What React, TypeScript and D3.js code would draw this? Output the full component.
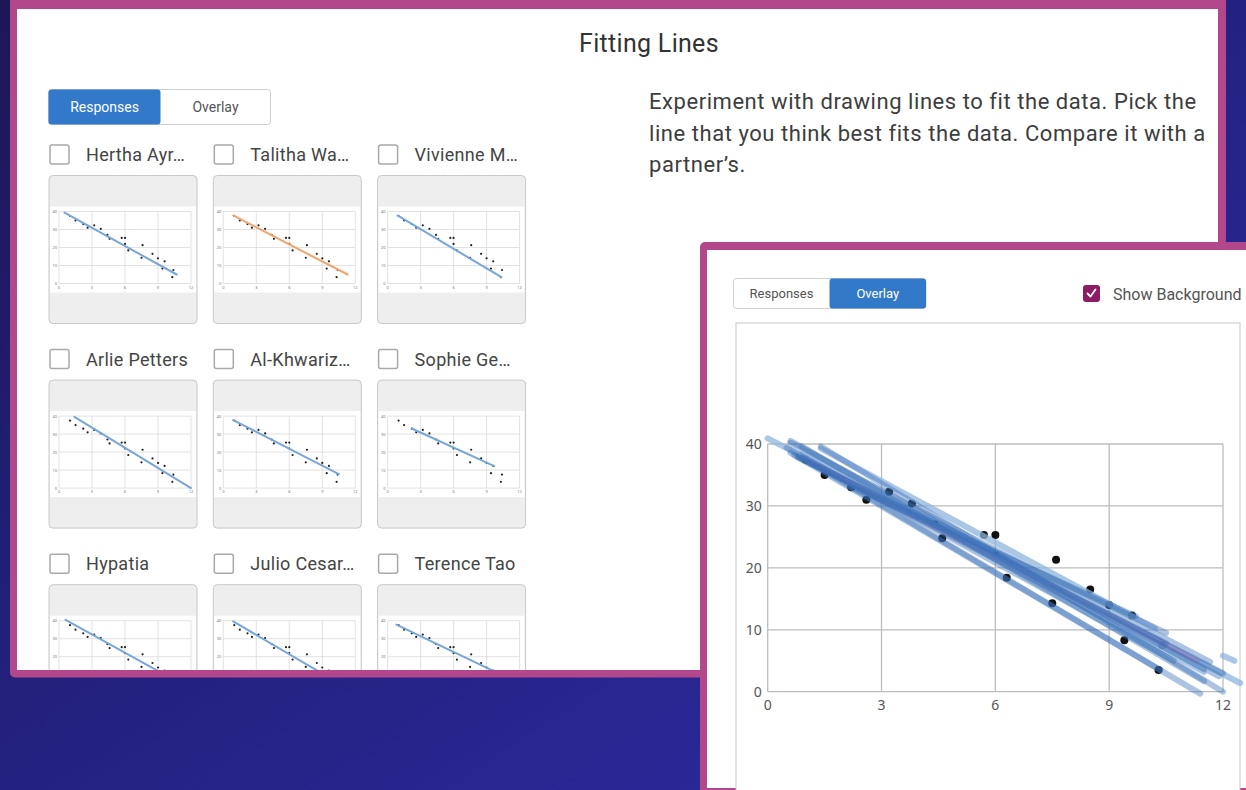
import React, { useEffect, useRef } from 'react';
import * as d3 from 'd3';

// scatter data shared by every response
const pointX = [1.0, 1.5, 2.2, 2.6, 3.2, 3.8, 4.4, 4.6, 5.7, 6.0, 6.0, 6.3, 7.5, 7.6, 8.5, 9.0, 9.4, 9.6, 10.3, 10.4];
const pointY = [37.5, 35, 33, 31, 32.3, 30.4, 27, 24.8, 25.3, 25.3, 22, 18.4, 14.3, 21.3, 16.5, 14, 8.3, 12.3, 3.5, 7.5];

const xTicks = [0, 3, 6, 9, 12];
const yTicks = [0, 10, 20, 30, 40];

// student responses (one fitted line each)
const studentNames = ['Hertha Ayr…', 'Talitha Wa…', 'Vivienne M…', 'Arlie Petters', 'Al-Khwariz…', 'Sophie Ge…', 'Hypatia', 'Julio Cesar…', 'Terence Tao'];
const lineX1 = [0.5, 0.9, 0.9, 1.4, 0.9, 2.2, 0.6, 0.9, 0.8];
const lineY1 = [39.4, 37.8, 37.8, 39.6, 37.8, 33.1, 40.5, 39.6, 37.8];
const lineX2 = [10.7, 11.3, 10.35, 12, 10.5, 9.7, 11.5, 11.5, 10.5];
const lineY2 = [5, 5, 3.5, 0, 7.8, 12.2, 3.6, 1.7, 9.5];

// other responses that only show up in the overlay
const otherX1 = [0, 0.6, 1.4, 0.6, 0.7, 0.8, 0.9, 12.0];
const otherY1 = [40.9, 40.2, 39.3, 38.6, 38.2, 38.0, 38.4, 5.8];
const otherX2 = [12.45, 11.66, 10.2, 11.4, 12, 11.9, 11.5, 12.3];
const otherY2 = [1.4, 4.8, 10.2, -0.3, 3.0, 2.5, 3.2, 5.0];

const introLines = [
    'Experiment with drawing lines to fit the data. Pick the',
    'line that you think best fits the data. Compare it with a',
    'partner’s.',
];

const MAGENTA = '#b2478c';
const BLUE = '#3279c9';
const UI_FONT = 'Roboto, sans-serif';

function drawToggle(g, x, y, w1, w2, h, active, fontSize) {
    const labels = ['Responses', 'Overlay'];
    const widths = [w1, w2];
    g.append('rect').attr('x', x).attr('y', y).attr('width', w1 + w2).attr('height', h)
        .attr('rx', 3).attr('fill', '#fff').attr('stroke', '#cfcfcf');
    let left = x;
    labels.forEach((lab, i) => {
        if (i === active) {
            g.append('rect').attr('x', left).attr('y', y).attr('width', widths[i]).attr('height', h)
                .attr('rx', 3).attr('fill', BLUE);
        }
        g.append('text').attr('x', left + widths[i] / 2).attr('y', y + h / 2)
            .attr('dy', '0.35em').attr('text-anchor', 'middle')
            .style('font-family', UI_FONT).style('font-size', fontSize + 'px')
            .attr('fill', i === active ? '#fff' : '#555').text(lab);
        left += widths[i];
    });
}

function App() {
    const ref = useRef(null);

    useEffect(() => {
        const svg = d3.select(ref.current);
        svg.selectAll('*').remove();
        const W = 1246, H = 790;
        svg.attr('width', W).attr('height', H);

        const defs = svg.append('defs');
        const grad = defs.append('linearGradient').attr('id', 'bg')
            .attr('x1', '0').attr('y1', '0').attr('x2', '1').attr('y2', '1');
        grad.append('stop').attr('offset', '0%').attr('stop-color', '#1a1857');
        grad.append('stop').attr('offset', '100%').attr('stop-color', '#2e2ca9');
        defs.append('clipPath').attr('id', 'leftClip')
            .append('rect').attr('x', 17).attr('y', 9).attr('width', 1201).attr('height', 661);

        svg.append('rect').attr('width', W).attr('height', H).attr('fill', 'url(#bg)');

        // ---- left panel (responses grid) ----
        svg.append('rect').attr('x', 10).attr('y', -10).attr('width', 1216).attr('height', 687.5)
            .attr('rx', 5).attr('fill', MAGENTA);
        svg.append('rect').attr('x', 17).attr('y', 9).attr('width', 1201).attr('height', 661).attr('fill', '#fff');
        const left = svg.append('g').attr('clip-path', 'url(#leftClip)');

        left.append('text').attr('x', 649).attr('y', 52).attr('text-anchor', 'middle')
            .style('font-family', UI_FONT).style('font-size', '25px').style('letter-spacing', '0.3px')
            .attr('fill', '#333')
            .text('Fitting Lines');

        left.selectAll('text.intro').data(introLines).enter().append('text')
            .attr('class', 'intro')
            .attr('x', 649).attr('y', (d, i) => 109 + i * 31.5)
            .style('font-family', UI_FONT).style('font-size', '22px').style('letter-spacing', '0.55px')
            .attr('fill', '#3d3d3d')
            .text(d => d);

        drawToggle(left, 48.5, 89.5, 112, 110, 35, 0, 14);

        studentNames.forEach((name, i) => {
            const col = i % 3, row = Math.floor(i / 3);
            const cx = 49 + col * 164.3;
            const cy = 175.5 + row * 204.6;
            const g = left.append('g');

            g.append('rect').attr('x', cx + 1).attr('y', cy - 30.5).attr('width', 19).attr('height', 19)
                .attr('rx', 2).attr('fill', '#fff').attr('stroke', '#a9a9a9').attr('stroke-width', 1.5);
            g.append('text').attr('x', cx + 37).attr('y', cy - 14.5)
                .style('font-family', UI_FONT).style('font-size', '18px').style('letter-spacing', '0.3px')
                .attr('fill', '#444').text(name);

            g.append('rect').attr('x', cx).attr('y', cy).attr('width', 148).attr('height', 148)
                .attr('rx', 4).attr('fill', '#eeeeee').attr('stroke', '#c8c8c8');
            g.append('rect').attr('x', cx + 1).attr('y', cy + 31).attr('width', 146).attr('height', 86).attr('fill', '#fff');

            const xs = d3.scaleLinear().domain([0, 12]).range([cx + 10, cx + 142]);
            const ys = d3.scaleLinear().domain([0, 40]).range([cy + 108, cy + 36]);

            g.selectAll('line.vx').data(xTicks).enter().append('line')
                .attr('x1', d => xs(d)).attr('x2', d => xs(d)).attr('y1', ys(0)).attr('y2', ys(40))
                .attr('stroke', '#d6d6d6').attr('stroke-width', 0.7);
            g.selectAll('line.hy').data(yTicks).enter().append('line')
                .attr('y1', d => ys(d)).attr('y2', d => ys(d)).attr('x1', xs(0)).attr('x2', xs(12))
                .attr('stroke', '#d6d6d6').attr('stroke-width', 0.7);
            g.selectAll('text.tx').data(xTicks).enter().append('text')
                .attr('x', d => xs(d)).attr('y', ys(0) + 5).attr('text-anchor', 'middle')
                .style('font-family', 'Noto Sans').style('font-size', '4px').attr('fill', '#777').text(d => d);
            g.selectAll('text.ty').data(yTicks).enter().append('text')
                .attr('x', xs(0) - 2).attr('y', d => ys(d) + 1.5).attr('text-anchor', 'end')
                .style('font-family', 'Noto Sans').style('font-size', '4px').attr('fill', '#777').text(d => d);

            g.selectAll('circle').data(pointX).enter().append('circle')
                .attr('cx', d => xs(d)).attr('cy', (d, j) => ys(pointY[j])).attr('r', 1.1).attr('fill', '#222');

            g.append('line')
                .attr('x1', xs(lineX1[i])).attr('y1', ys(lineY1[i]))
                .attr('x2', xs(lineX2[i])).attr('y2', ys(lineY2[i]))
                .attr('stroke', i === 1 ? '#f3a46b' : '#78a6da').attr('stroke-width', 2)
                .attr('stroke-linecap', 'round');
        });

        // ---- right panel (overlay) ----
        svg.append('rect').attr('x', 700).attr('y', 242).attr('width', 600).attr('height', 600)
            .attr('rx', 5).attr('fill', MAGENTA);
        svg.append('rect').attr('x', 707).attr('y', 250).attr('width', 600).attr('height', 538).attr('fill', '#fff');

        const right = svg.append('g');
        drawToggle(right, 733.5, 278.5, 96, 96.5, 30, 1, 13);

        right.append('rect').attr('x', 1083).attr('y', 285).attr('width', 17).attr('height', 17)
            .attr('rx', 3).attr('fill', '#8e1c62');
        right.append('path').attr('d', 'M1087.5,293.5 L1090.5,296.5 L1095.5,289.5')
            .attr('fill', 'none').attr('stroke', '#fff').attr('stroke-width', 1.8)
            .attr('stroke-linecap', 'round').attr('stroke-linejoin', 'round');
        right.append('text').attr('x', 1113).attr('y', 300)
            .style('font-family', UI_FONT).style('font-size', '16px').attr('fill', '#555')
            .text('Show Background');

        right.append('rect').attr('x', 736).attr('y', 323).attr('width', 504).attr('height', 480)
            .attr('fill', '#fff').attr('stroke', '#c8c8c8');

        const x = d3.scaleLinear().domain([0, 12]).range([767.7, 1223]);
        const y = d3.scaleLinear().domain([0, 40]).range([691.7, 444]);

        right.selectAll('line.gx').data(xTicks).enter().append('line')
            .attr('x1', d => x(d)).attr('x2', d => x(d)).attr('y1', y(0)).attr('y2', y(40))
            .attr('stroke', '#bdbdbd').attr('stroke-width', 1.3);
        right.selectAll('line.gy').data(yTicks).enter().append('line')
            .attr('y1', d => y(d)).attr('y2', d => y(d)).attr('x1', x(0)).attr('x2', x(12))
            .attr('stroke', '#bdbdbd').attr('stroke-width', 1.3);

        right.selectAll('text.ax').data(xTicks).enter().append('text')
            .attr('x', d => x(d)).attr('y', y(0) + 18).attr('text-anchor', 'middle')
            .style('font-family', 'Noto Sans').style('font-size', '14px').attr('fill', '#555').text(d => d);
        right.selectAll('text.ay').data(yTicks).enter().append('text')
            .attr('x', x(0) - 6).attr('y', d => y(d)).attr('dy', '0.35em').attr('text-anchor', 'end')
            .style('font-family', 'Noto Sans').style('font-size', '14px').attr('fill', '#555').text(d => d);

        right.selectAll('circle').data(pointX).enter().append('circle')
            .attr('cx', d => x(d)).attr('cy', (d, j) => y(pointY[j])).attr('r', 4).attr('fill', '#111');

        const lightOthers = [0, 2, 6, 7];
        otherX1.forEach((d, j) => {
            const light = lightOthers.includes(j);
            right.append('line')
                .attr('x1', x(d)).attr('y1', y(otherY1[j]))
                .attr('x2', x(otherX2[j])).attr('y2', y(otherY2[j]))
                .attr('stroke', light ? '#8fb4de' : '#3a70b8')
                .attr('stroke-opacity', light ? 0.75 : 0.42)
                .attr('stroke-width', 6).attr('stroke-linecap', 'round');
        });
        lineX1.forEach((d, j) => {
            right.append('line')
                .attr('x1', x(d)).attr('y1', y(lineY1[j]))
                .attr('x2', x(lineX2[j])).attr('y2', y(lineY2[j]))
                .attr('stroke', j === 1 ? '#a46cae' : '#3a70b8')
                .attr('stroke-opacity', j === 1 ? 0.35 : 0.42)
                .attr('stroke-width', 6).attr('stroke-linecap', 'round');
        });
    }, []);

    return (
        <svg ref={ref} style={{ position: 'absolute', left: 0, top: 0, display: 'block' }}></svg>
    );
}

export default App;
